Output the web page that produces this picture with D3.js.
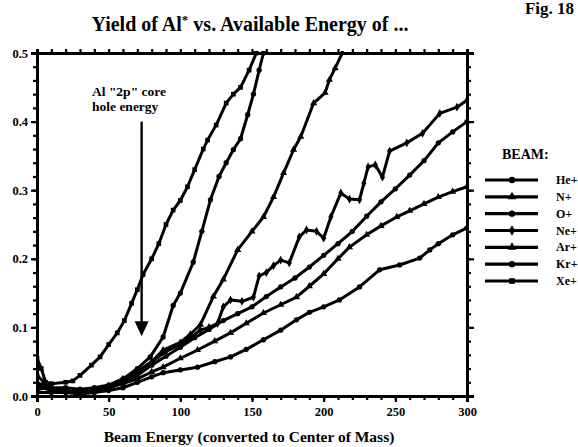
<!DOCTYPE html>
<html><head><meta charset="utf-8">
<script src="https://cdn.jsdelivr.net/npm/d3@7/dist/d3.min.js"></script>
<style>
body{margin:0;background:#fff}
svg{display:block}
text{font-family:"Liberation Serif","Times New Roman",serif;font-weight:bold;fill:#000}
</style>
</head><body>
<svg id="c" width="578" height="447"></svg>
<script>
// ---- data ----
const seriesNames = ["He+","N+","O+","Ne+","Ar+","Kr+","Xe+"];
const xTickLabels = [0,50,100,150,200,250,300];
const yTickLabels = [0.0,0.1,0.2,0.3,0.4,0.5];

const heData = [[0,0.005],[10,0.005],[20,0.005],[30,0.003],[40,0.005],[50,0.008],[60,0.012],[70,0.02],[80,0.028],[88,0.034],[100,0.038],[112,0.042],[124,0.05],[135,0.057],[146,0.068],[158,0.082],[170,0.096],[181,0.111],[190,0.122],[200,0.13],[211,0.14],[225,0.159],[239,0.184],[253,0.191],[267,0.201],[274,0.213],[280,0.222],[290,0.235],[300,0.245]];
const nData = [[0,0.012],[10,0.01],[20,0.008],[30,0.005],[40,0.008],[50,0.012],[60,0.018],[70,0.025],[80,0.035],[88,0.042],[100,0.055],[112,0.067],[124,0.08],[135,0.092],[146,0.106],[158,0.121],[170,0.133],[181,0.144],[190,0.16],[200,0.178],[210,0.2],[218,0.217],[230,0.235],[240,0.248],[251,0.261],[260,0.27],[270,0.28],[280,0.29],[290,0.298],[300,0.305]];
const oData = [[0,0.01],[10,0.012],[20,0.008],[30,0.006],[40,0.008],[50,0.012],[60,0.02],[70,0.03],[80,0.045],[90,0.058],[100,0.071],[110,0.085],[120,0.097],[130,0.11],[140,0.12],[150,0.13],[160,0.145],[170,0.159],[180,0.172],[190,0.188],[200,0.205],[210,0.222],[220,0.24],[230,0.262],[240,0.283],[250,0.302],[260,0.322],[270,0.343],[280,0.369],[290,0.385],[300,0.40]];
const neData = [[0,0.015],[10,0.008],[20,0.005],[30,0.005],[40,0.008],[50,0.012],[60,0.02],[70,0.035],[80,0.05],[90,0.065],[100,0.075],[107,0.085],[114,0.096],[120,0.1],[126,0.106],[130,0.13],[135,0.14],[143,0.138],[151,0.144],[155,0.175],[160,0.18],[165,0.19],[170,0.198],[176,0.194],[183,0.232],[188,0.242],[195,0.24],[200,0.23],[205,0.261],[212,0.296],[218,0.287],[225,0.286],[228,0.31],[231,0.334],[236,0.337],[241,0.319],[246,0.357],[258,0.369],[269,0.383],[281,0.412],[293,0.421],[300,0.431]];
const arData = [[0,0.02],[10,0.01],[20,0.006],[30,0.005],[40,0.01],[50,0.015],[60,0.025],[70,0.035],[80,0.05],[88,0.067],[100,0.078],[107,0.09],[114,0.104],[123,0.145],[130,0.17],[140,0.213],[150,0.24],[158,0.261],[165,0.29],[172,0.325],[179,0.359],[184,0.378],[193,0.427],[201,0.442],[204,0.461],[208,0.478],[213,0.5]];
const krData = [[0,0.03],[5,0.02],[10,0.012],[20,0.012],[30,0.01],[40,0.012],[50,0.016],[60,0.025],[70,0.04],[79,0.057],[88,0.086],[95,0.132],[100,0.15],[109,0.195],[115,0.24],[121,0.286],[127,0.32],[132,0.34],[137,0.359],[142,0.375],[147,0.41],[151,0.44],[155,0.475],[158,0.5]];
const xeData = [[0,0.055],[3,0.04],[6,0.02],[10,0.018],[20,0.02],[25,0.022],[30,0.03],[38,0.045],[44,0.057],[50,0.075],[56,0.092],[61,0.11],[66,0.135],[70,0.155],[74,0.177],[80,0.2],[85,0.222],[90,0.25],[95,0.271],[100,0.285],[105,0.305],[110,0.33],[116,0.36],[119,0.373],[125,0.395],[132,0.427],[137,0.44],[142,0.45],[148,0.475],[153,0.5]];

const seriesData = [heData, nData, oData, neData, arData, krData, xeData];
const seriesSymbols = [d3.symbolCircle, d3.symbolTriangle, d3.symbolCircle, d3.symbolDiamond, d3.symbolTriangle, d3.symbolCircle, d3.symbolSquare];

const annotLines = ['Al "2p" core', 'hole energy'];
const arrowX = 73, arrowTop = 0.40, arrowTip = 0.087;

// ---- chart ----
const svg = d3.select("#c");
const x = d3.scaleLinear().domain([0,300]).range([37,467]);
const y = d3.scaleLinear().domain([0,0.5]).range([396,53]);

function styleAxis(g, w){
  g.select(".domain").attr("stroke","#000").attr("stroke-width",w);
  g.selectAll(".tick line").attr("stroke","#000").attr("stroke-width",2.2);
}

// minor ticks
const xMinor = d3.range(0,301,10), yMinor = d3.range(0,0.5001,0.02);
[[d3.axisBottom(x),396],[d3.axisTop(x),53]].forEach(([ax,ty])=>{
  const g = svg.append("g").attr("transform",`translate(0,${ty})`)
    .call(ax.tickValues(xMinor).tickSize(4).tickFormat(""));
  styleAxis(g,3);
});
[[d3.axisLeft(y),37],[d3.axisRight(y),467]].forEach(([ax,tx])=>{
  const g = svg.append("g").attr("transform",`translate(${tx},0)`)
    .call(ax.tickValues(yMinor).tickSize(4).tickFormat(""));
  styleAxis(g,3);
});
// major ticks with labels
const gxb = svg.append("g").attr("transform","translate(0,396)")
  .call(d3.axisBottom(x).tickValues(xTickLabels).tickSize(6).tickPadding(5).tickFormat(d3.format("d")));
styleAxis(gxb,3);
gxb.selectAll("text").attr("font-size",12.5).attr("font-family","Liberation Serif").attr("font-weight","bold");
const gyl = svg.append("g").attr("transform","translate(37,0)")
  .call(d3.axisLeft(y).tickValues(yTickLabels).tickSize(6).tickPadding(3).tickFormat(d3.format(".1f")));
styleAxis(gyl,3);
gyl.selectAll("text").attr("font-size",12.5).attr("font-family","Liberation Serif").attr("font-weight","bold");
const gyr = svg.append("g").attr("transform","translate(467,0)")
  .call(d3.axisRight(y).tickValues(yTickLabels).tickSize(7).tickFormat(""));
styleAxis(gyr,3);

// clip
svg.append("clipPath").attr("id","pc").append("rect")
  .attr("x",37).attr("y",51).attr("width",432).attr("height",347);
const plot = svg.append("g").attr("clip-path","url(#pc)");

const line = d3.line().x(d=>x(d[0])).y(d=>y(d[1])).curve(d3.curveLinear);
seriesData.forEach((data,i)=>{
  plot.append("path").datum(data).attr("d",line)
    .attr("fill","none").attr("stroke","#000").attr("stroke-width",3).attr("stroke-linejoin","round");
  plot.selectAll(null).data(data).enter().append("path")
    .attr("transform",d=>`translate(${x(d[0])},${y(d[1])})`)
    .attr("d",d3.symbol().type(seriesSymbols[i]).size(22))
    .attr("fill","#000");
});

// arrow annotation
const ax0 = x(arrowX);
svg.append("line").attr("x1",ax0).attr("x2",ax0).attr("y1",y(arrowTop)).attr("y2",y(arrowTip)-12)
  .attr("stroke","#000").attr("stroke-width",2.4);
svg.append("path")
  .attr("d",`M${ax0-7},${y(arrowTip)-15}L${ax0+7},${y(arrowTip)-15}L${ax0},${y(arrowTip)}Z`)
  .attr("fill","#000");
svg.append("g").selectAll("text").data(annotLines).enter().append("text")
  .attr("x",92).attr("y",(d,i)=>96+i*15).attr("font-size",13.5).text(d=>d);

// title
const t = svg.append("text").attr("x",250).attr("y",31).attr("text-anchor","middle").attr("font-size",20);
t.append("tspan").text("Yield of Al");
t.append("tspan").attr("dy",-7).attr("font-size",13).text("*");
t.append("tspan").attr("dy",7).text(" vs. Available Energy of ...");
svg.append("text").attr("x",574).attr("y",14).attr("text-anchor","end").attr("font-size",17).text("Fig. 18");

// x axis label
svg.append("text").attr("x",249).attr("y",442).attr("text-anchor","middle").attr("font-size",15.5)
  .text("Beam Energy (converted to Center of Mass)");

// legend
const ly = d3.scalePoint().domain(seriesNames).range([180,281]);
svg.append("text").attr("x",502).attr("y",159).attr("font-size",14).text("BEAM:");
const lg = svg.append("g").selectAll("g").data(seriesNames).enter().append("g")
  .attr("transform",d=>`translate(0,${ly(d)})`);
lg.append("line").attr("x1",485).attr("x2",538).attr("stroke","#000").attr("stroke-width",3.2);
lg.append("path").attr("transform","translate(512,0)")
  .attr("d",(d,i)=>d3.symbol().type(seriesSymbols[i]).size(32)()).attr("fill","#000");
lg.append("text").attr("x",556).attr("y",4).attr("font-size",12).text(d=>d);
</script>
</body></html>
